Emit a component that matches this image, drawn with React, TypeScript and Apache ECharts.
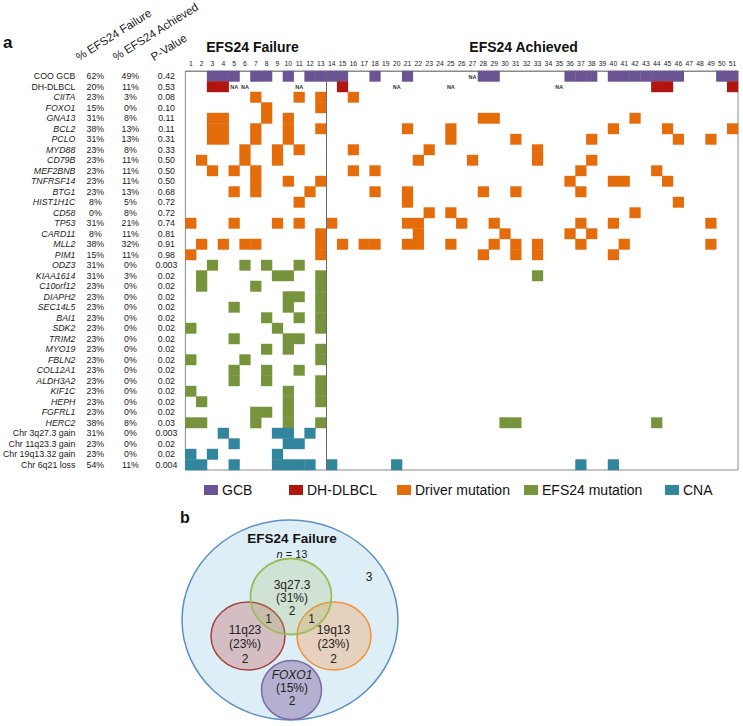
import React, { useEffect, useRef } from 'react';
import * as echarts from 'echarts';

// ---------- data ----------
const columnLabels = ['1','2','3','4','5','6','7','8','9','10','11','12','13','14','15','16','17','18','19','20','21','22','23','24','25','26','27','28','29','30','31','32','33','34','35','36','37','38','39','40','41','42','43','44','45','46','47','48','49','50','51'];

const rowNames = ['COO GCB','DH-DLBCL','CIITA','FOXO1','GNA13','BCL2','PCLO','MYD88','CD79B','MEF2BNB','TNFRSF14','BTG1','HIST1H1C','CD58','TP53','CARD11','MLL2','PIM1','ODZ3','KIAA1614','C10orf12','DIAPH2','SEC14L5','BAI1','SDK2','TRIM2','MYO19','FBLN2','COL12A1','ALDH3A2','KIF1C','HEPH','FGFRL1','HERC2','Chr 3q27.3 gain','Chr 11q23.3 gain','Chr 19q13.32 gain','Chr 6q21 loss'];
const plainRows = ['COO GCB','DH-DLBCL','Chr 3q27.3 gain','Chr 11q23.3 gain','Chr 19q13.32 gain','Chr 6q21 loss'];

const failurePct = ['62%','20%','23%','15%','31%','38%','31%','23%','23%','23%','23%','23%','8%','0%','31%','8%','38%','15%','31%','31%','23%','23%','23%','23%','23%','23%','23%','23%','23%','23%','23%','23%','23%','38%','31%','23%','23%','54%'];
const achievedPct = ['49%','11%','3%','0%','8%','13%','13%','8%','11%','11%','11%','13%','5%','8%','21%','11%','32%','11%','0%','3%','0%','0%','0%','0%','0%','0%','0%','0%','0%','0%','0%','0%','0%','8%','0%','0%','0%','11%'];
const pValues = ['0.42','0.53','0.08','0.10','0.11','0.11','0.31','0.33','0.50','0.50','0.50','0.68','0.72','0.72','0.74','0.81','0.91','0.98','0.003','0.02','0.02','0.02','0.02','0.02','0.02','0.02','0.02','0.02','0.02','0.02','0.02','0.02','0.02','0.03','0.003','0.02','0.02','0.004'];

// patient columns (1-based) carrying each feature
const gcbCols = [3,4,5,7,8,10,12,13,14,15,18,21,28,29,36,37,38,40,41,42,43,44,45,46,50,51];
const dhCols = [3,4,15,44,45,51];
const driverMarks = [
  [7,11,13,16],                 // CIITA
  [8,13],                       // FOXO1
  [3,4,8,10,28,29,42],          // GNA13
  [3,4,7,10,13,21,25,40,45,51], // BCL2
  [3,4,7,10,25,31,38,46,49],    // PCLO
  [6,9,11,16,23,33],            // MYD88
  [2,6,9,22,27,33,38],          // CD79B
  [3,5,7,16,18,37,44],          // MEF2BNB
  [7,10,13,36,40,41,45],        // TNFRSF14
  [5,7,12,18,21,28,31,37],      // BTG1
  [11,21,46],                   // HIST1H1C
  [23,25,42],                   // CD58
  [1,5,9,11,14,21,22,26,29,37,40,49], // TP53
  [13,22,30,36,38],             // CARD11
  [2,4,6,7,13,15,17,18,21,22,25,29,31,33,37,41,49], // MLL2
  [1,13,28,31,33,40],           // PIM1
];
const efsMarks = [
  [3,6,8,11],        // ODZ3
  [2,9,10,13,33],    // KIAA1614
  [2,7,13],          // C10orf12
  [10,11,13],        // DIAPH2
  [5,10,13],         // SEC14L5
  [8,11,13],         // BAI1
  [1,9,13],          // SDK2
  [5,10,11],         // TRIM2
  [8,10,13],         // MYO19
  [1,6,13],          // FBLN2
  [5,8,11],          // COL12A1
  [5,8,13],          // ALDH3A2
  [1,10,13],         // KIF1C
  [2,10,13],         // HEPH
  [7,8,10],          // FGFRL1
  [1,2,7,10,13,30,31,44], // HERC2
];
const cnaMarks = [
  [4,9,10,12],                    // 3q27.3 gain
  [5,10,11],                      // 11q23.3 gain
  [1,3,9],                        // 19q13.32 gain
  [1,2,5,9,10,11,12,14,20,37,40], // 6q21 loss
];
// [column, row] of "NA" annotations
const naCells = [[27,0],[5,1],[6,1],[11,1],[20,1],[25,1],[35,1]];
// last column of the EFS24 Failure group (divider drawn after it)
const failureGroupEnd = 13;

const legendNames = ['GCB','DH-DLBCL','Driver mutation','EFS24 mutation','CNA'];
const legendColors = ['#6A5494','#B0160E','#E46C0A','#77933C','#31859C'];

// Venn (panel b)
const vennSets = ['3q27.3','11q23','19q13','FOXO1'];
const vennPct = ['(31%)','(23%)','(23%)','(15%)'];
const vennOnly = ['2','2','2','2'];
const vennOverlaps = ['1','1'];
const vennOutside = '3';

// ---------- helpers ----------
const cellsFromCols = (cols: number[], row: number) => cols.map(c => [c - 1, row]);
const cellsFromRows = (rows: number[][], offset: number) => {
  const out: number[][] = [];
  rows.forEach((cols, i) => cols.forEach(c => out.push([c - 1, offset + i])));
  return out;
};

const FONT = 'Liberation Sans, Arial, Helvetica, sans-serif';

export default function App() {
  const ref = useRef<HTMLDivElement>(null);
  useEffect(() => {
    document.body.style.margin = '0';
    if (!ref.current) return;
    const chart = echarts.init(ref.current, undefined, { renderer: 'svg' });

    const rectRender = (color: string) => (params: any, api: any) => {
      const c = api.coord([api.value(0), api.value(1)]);
      const s = api.size([1, 1]);
      return {
        type: 'rect',
        shape: { x: c[0] - s[0] / 2 - 0.2, y: c[1] - s[1] / 2 - 0.2, width: s[0] + 0.4, height: s[1] + 0.4 },
        style: { fill: color },
      };
    };

    const seriesData = [
      cellsFromCols(gcbCols, 0),
      cellsFromCols(dhCols, 1),
      cellsFromRows(driverMarks, 2),
      cellsFromRows(efsMarks, 18),
      cellsFromRows(cnaMarks, 34),
    ];

    const series: any[] = legendNames.map((name, i) => ({
      name,
      type: 'custom',
      xAxisIndex: 0,
      yAxisIndex: 0,
      itemStyle: { color: legendColors[i] },
      renderItem: rectRender(legendColors[i]),
      encode: { x: 0, y: 1 },
      data: seriesData[i],
      silent: true,
    }));
    series.push({
      name: 'NA',
      type: 'custom',
      renderItem: (params: any, api: any) => {
        const c = api.coord([api.value(0), api.value(1)]);
        return {
          type: 'text',
          x: c[0],
          y: c[1] + 0.5,
          style: { text: 'NA', fontSize: 5.5, fontWeight: 'bold', fill: '#333', align: 'center', verticalAlign: 'middle', fontFamily: FONT },
        };
      },
      encode: { x: 0, y: 1 },
      data: naCells.map(([c, r]) => [c - 1, r]),
      silent: true,
    });
    // group divider
    series.push({
      name: 'divider',
      type: 'custom',
      renderItem: (params: any, api: any) => {
        const c = api.coord([api.value(0), 0]);
        const s = api.size([1, 1]);
        const x = Math.round(c[0] + s[0] / 2) + 0.5;
        const cs = params.coordSys;
        return {
          type: 'line',
          shape: { x1: x, y1: cs.y, x2: x, y2: cs.y + cs.height },
          style: { stroke: '#6a6a6a', lineWidth: 1 },
        };
      },
      encode: { x: 0, y: 1 },
      data: [[failureGroupEnd - 1, 0]],
      silent: true,
      z: 5,
    });

    const yBase = {
      type: 'category',
      inverse: true,
      position: 'left',
      offset: 0,
      axisLine: { show: false },
      axisTick: { show: false },
      splitLine: { show: false },
    };

    const legendLefts = [204, 289, 397, 524, 665];

    const t = (text: string, x: number, y: number, extra: any = {}) => ({
      type: 'text',
      x, y,
      style: {
        text, fontSize: 12, fill: '#222', fontFamily: FONT,
        align: 'center', verticalAlign: 'middle', textAlign: 'center', textVerticalAlign: 'middle',
        ...extra,
      },
    });

    const lbl = { interval: 0, fontSize: 8.8, color: '#1a1a1a' };

    const option: any = {
      animation: false,
      textStyle: { fontFamily: FONT },
      grid: { left: 181, top: 71, width: 557, height: 399, show: true, borderColor: '#8a8a8a', borderWidth: 1, backgroundColor: 'transparent' },
      xAxis: {
        type: 'category',
        position: 'top',
        data: columnLabels,
        axisLine: { show: true, lineStyle: { color: '#8a8a8a' } },
        axisTick: { show: false },
        axisLabel: { interval: 0, fontSize: 6.8, color: '#222', margin: 4, hideOverlap: false },
        splitLine: { show: false },
      },
      yAxis: [
        {
          ...yBase,
          data: rowNames.map(n => plainRows.includes(n) ? n : { value: n, textStyle: { fontStyle: 'italic' } }),
          axisLabel: { ...lbl, margin: 110, align: 'right' },
        },
        { ...yBase, data: failurePct, axisLabel: { ...lbl, margin: 90, align: 'center' } },
        { ...yBase, data: achievedPct, axisLabel: { ...lbl, margin: 55, align: 'center' } },
        { ...yBase, data: pValues, axisLabel: { ...lbl, margin: 19, align: 'center' } },
      ],
      legend: legendNames.map((name, i) => ({
        data: [name],
        left: legendLefts[i],
        top: 483,
        padding: 0,
        itemWidth: 14,
        itemHeight: 10,
        icon: 'rect',
        selectedMode: false,
        textStyle: { fontSize: 14, color: '#111', fontFamily: FONT, padding: [0, 0, 0, -1] },
      })),
      series,
      graphic: [
        t('a', 3, 42, { fontSize: 17, fontWeight: 'bold', align: 'left', textAlign: 'left', fill: '#111' }),
        t('b', 180, 517, { fontSize: 16, fontWeight: 'bold', align: 'left', textAlign: 'left', fill: '#111' }),
        { type: 'text', x: 80, y: 63, rotation: 0.56, style: { text: '% EFS24 Failure', fontSize: 11.5, fill: '#1a1a1a', fontFamily: FONT, align: 'left', verticalAlign: 'bottom' } },
        { type: 'text', x: 117, y: 63, rotation: 0.56, style: { text: '% EFS24 Achieved', fontSize: 11.5, fill: '#1a1a1a', fontFamily: FONT, align: 'left', verticalAlign: 'bottom' } },
        { type: 'text', x: 155, y: 63, rotation: 0.56, style: { text: 'P-Value', fontSize: 11.5, fill: '#1a1a1a', fontFamily: FONT, align: 'left', verticalAlign: 'bottom' } },
        t('EFS24 Failure', 252.5, 47, { fontSize: 14, fontWeight: 'bold', fill: '#111' }),
        t('EFS24 Achieved', 523.5, 47, { fontSize: 14, fontWeight: 'bold', fill: '#111' }),
        // Venn
        { type: 'ellipse', shape: { cx: 290, cy: 620, rx: 108, ry: 100 }, style: { fill: '#DEEEF6', stroke: '#5B8FC7', lineWidth: 1.5 } },
        { type: 'ellipse', shape: { cx: 248, cy: 636, rx: 37, ry: 34 }, style: { fill: 'rgba(192,80,77,0.30)', stroke: '#A5403D', lineWidth: 1.5 } },
        { type: 'ellipse', shape: { cx: 334, cy: 636, rx: 37, ry: 34 }, style: { fill: 'rgba(247,150,70,0.32)', stroke: '#F0913A', lineWidth: 1.5 } },
        { type: 'ellipse', shape: { cx: 291, cy: 596.5, rx: 40.5, ry: 38 }, style: { fill: 'rgba(155,187,89,0.22)', stroke: '#9BBB59', lineWidth: 1.8 } },
        { type: 'ellipse', shape: { cx: 291.5, cy: 690, rx: 30, ry: 29.5 }, style: { fill: 'rgba(128,100,162,0.45)', stroke: '#7F6AA5', lineWidth: 1.5 } },
        t('EFS24 Failure', 292, 538.5, { fontSize: 13.5, fontWeight: 'bold', fill: '#111' }),
        { type: 'text', x: 292, y: 553.5, style: { text: '{i|n} = 13', fontSize: 11, fill: '#222', fontFamily: FONT, align: 'center', verticalAlign: 'middle', rich: { i: { fontStyle: 'italic', fontSize: 11, fontFamily: FONT, fill: '#222' } } } },
        t(vennOutside, 369, 577),
        t(vennSets[0], 292, 585), t(vennPct[0], 292, 597.5), t(vennOnly[0], 292, 611),
        t(vennOverlaps[0], 268.5, 619), t(vennOverlaps[1], 311.5, 619),
        t(vennSets[1], 245, 630), t(vennPct[1], 245, 643.5), t(vennOnly[1], 245, 659),
        t(vennSets[2], 333.5, 630), t(vennPct[2], 333.5, 643.5), t(vennOnly[2], 333.5, 659),
        t(vennSets[3], 292, 675, { fontStyle: 'italic' }), t(vennPct[3], 292, 688), t(vennOnly[3], 292, 701),
      ],
    };
    chart.setOption(option);
    return () => chart.dispose();
  }, []);
  return <div ref={ref} style={{ width: 743, height: 726, background: '#fff' }} />;
}
